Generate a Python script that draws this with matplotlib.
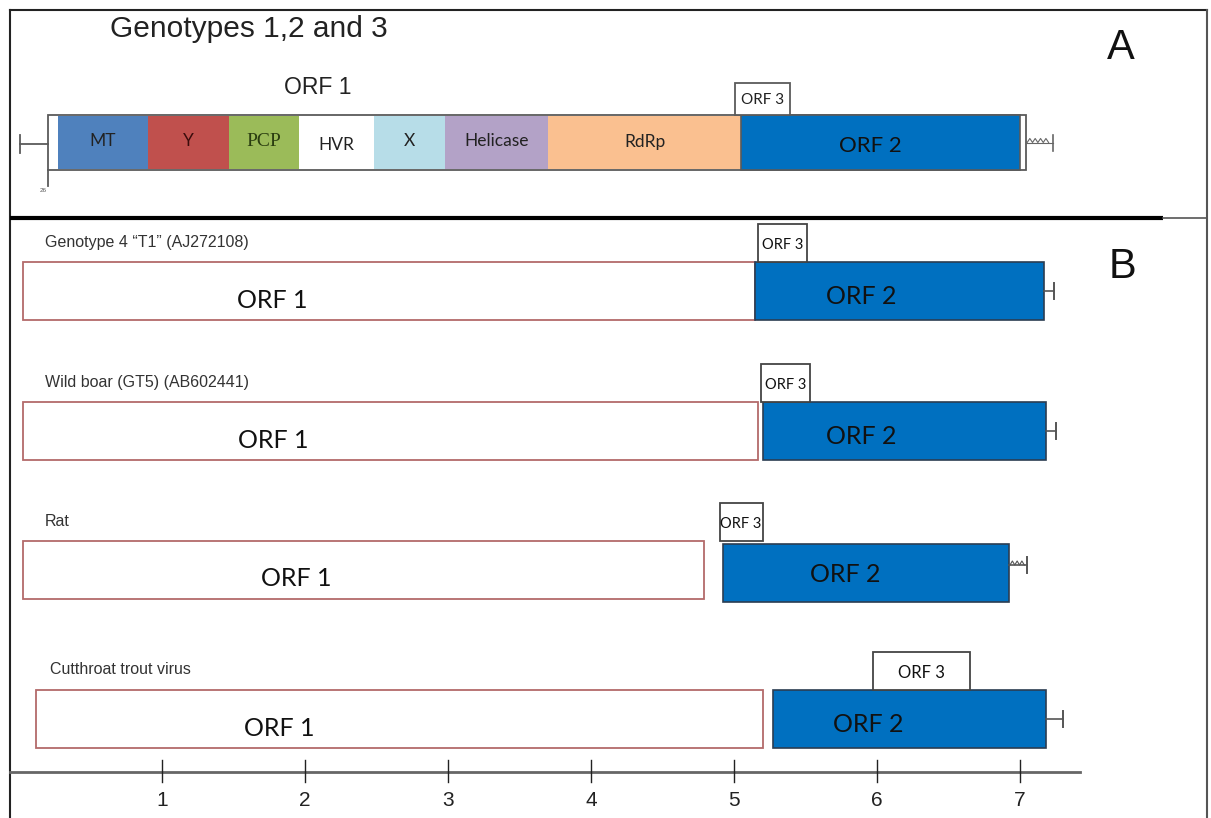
import numpy as np
import matplotlib
matplotlib.use("Agg")
import matplotlib.pyplot as plt

# ---------------- genome map data (kb) ----------------
# Panel A: genotypes 1, 2 and 3
a_genome_start = 0.01
a_orf1_start = 0.20
domain_names = ["MT", "Y", "PCP", "HVR", "X", "Helicase", "RdRp"]
domain_starts = [0.27, 0.90, 1.47, 1.96, 2.48, 2.98, 3.70]
domain_ends = [0.90, 1.47, 1.96, 2.48, 2.98, 3.70, 5.05]
domain_colors = ["#4f81bd", "#c0504d", "#9bbb59", "#ffffff", "#b7dde8", "#b3a2c7", "#fac090"]
a_orf2 = (5.05, 7.00)
a_orf3 = (5.01, 5.39)
a_orf1_end = 7.04
a_genome_end = 7.23

# Panel B: other HEV-like genomes
strains = ["Genotype 4 \u201cT1\u201d (AJ272108)", "Wild boar (GT5) (AB602441)",
           "Rat", "Cutthroat trout virus"]
orf1_start = [0.03, 0.03, 0.03, 0.12]
orf1_end = [5.15, 5.17, 4.79, 5.20]
orf2_start = [5.15, 5.20, 4.92, 5.27]
orf2_end = [7.17, 7.18, 6.92, 7.18]
orf3_start = [5.17, 5.19, 4.90, 5.97]
orf3_end = [5.51, 5.53, 5.20, 6.65]
genome_end = [7.24, 7.25, 7.05, 7.30]
poly_a_tail = [False, False, True, False]
kb_ticks = [1, 2, 3, 4, 5, 6, 7]

# ---------------- layout ----------------
W, H = 1211, 818
X0, PX_PER_KB = 19.0, 143.0          # horizontal kb scale


def kx(px):
    return (px - X0) / PX_PER_KB


fig = plt.figure(figsize=(W / 100, H / 100), dpi=100)
ax = fig.add_axes([0, 0, 1, 1])
ax.set_xlim(kx(0), kx(W))
ax.set_ylim(H, 0)
ax.axis("off")

SANS = "Liberation Sans"
CAL = "Lato"
EDGE = "#5a5a5a"
BLUE = "#0070c0"

# frame of the two panels
ax.plot([kx(10), kx(1207)], [10, 10], color="#222", lw=1.5, clip_on=False)
ax.plot([kx(10), kx(10)], [10, H], color="#222", lw=1.5, clip_on=False)
ax.plot([kx(1207), kx(1207)], [10, H], color="#555", lw=1.5, clip_on=False)
ax.plot([kx(10), kx(1163)], [218, 218], color="black", lw=3, clip_on=False,
        solid_capstyle="butt")
ax.plot([kx(1163), kx(1207)], [218, 218], color="#555", lw=1.2, clip_on=False)

ax.text(kx(1121), 48, "A", fontsize=30, family=SANS, ha="center", va="center", color="#111")
ax.text(kx(1123), 267, "B", fontsize=30, family=SANS, ha="center", va="center", color="#111")

# ---------------- panel A ----------------
ax.text(kx(110), 29, "Genotypes 1,2 and 3", fontsize=21.5, family=SANS,
        ha="left", va="center", color="#222")
ax.text(kx(318), 88, "ORF 1", fontsize=16.5, family=SANS, ha="center", va="center", color="#222")

a_top, a_bot = 115, 170
a_mid = (a_top + a_bot) / 2
a_h = a_bot - a_top
# 5' end marker
ax.plot([a_genome_start, a_orf1_start], [a_mid + 1, a_mid + 1], color=EDGE, lw=1.3)
ax.plot([a_genome_start, a_genome_start], [a_mid - 8, a_mid + 10], color=EDGE, lw=1.3)
ax.plot([a_orf1_start, a_orf1_start], [a_bot, a_bot + 16], color=EDGE, lw=1.3)
ax.text(a_orf1_start - 0.03, a_bot + 20, "26", fontsize=4.5, family=SANS,
        ha="center", va="center", color="#555")
# genome outline
ax.barh(a_mid, a_orf1_end - a_orf1_start, left=a_orf1_start, height=a_h,
        color="white", edgecolor=EDGE, lw=1.3)
# ORF1 domains
for name, s, e, c in zip(domain_names, domain_starts, domain_ends, domain_colors):
    ax.barh(a_mid, e - s, left=s, height=a_h - 2, color=c, edgecolor="none")
    fam = "Liberation Serif" if name == "PCP" else CAL
    fs = 14 if name == "PCP" else 12.5
    col = {"Y": "#3a0c0c", "PCP": "#2a3d10"}.get(name, "#222")
    ax.text((s + e) / 2, a_mid + (3 if name == "HVR" else -1),
            name, fontsize=fs, family=fam, ha="center", va="center", color=col)
# ORF2
ax.barh(a_mid, a_orf2[1] - a_orf2[0], left=a_orf2[0], height=a_h,
        color=BLUE, edgecolor=EDGE, lw=1.2)
ax.text(kx(870), a_mid + 3, "ORF 2", fontsize=16, family=CAL, ha="center", va="center", color="#111")
# ORF3
ax.barh(a_top - 16, a_orf3[1] - a_orf3[0], left=a_orf3[0], height=32,
        color="white", edgecolor=EDGE, lw=1.3)
ax.text((a_orf3[0] + a_orf3[1]) / 2, a_top - 15, "ORF 3", fontsize=11, family=CAL,
        ha="center", va="center", color="#222")
# poly(A) tail
tail = np.linspace(a_orf1_end + 0.01, a_genome_end - 0.03, 9)
ax.plot(tail, a_mid + np.where(np.arange(9) % 2 == 1, -4, 0), color="#666", lw=0.8)
ax.plot([a_orf1_end, a_genome_end], [a_mid, a_mid], color="#666", lw=0.8)
ax.plot([a_genome_end, a_genome_end], [a_mid - 8, a_mid + 8], color="#666", lw=1.2)

# ---------------- panel B ----------------
bar_tops = [262, 402, 541, 690]
bar_h = 58
orf3_h = 38
name_x = [45, 45, 45, 50]
name_y = [242, 382, 522, 670]
orf1_lab_x = [272, 273, 296, 279]
orf2_lab_x = [861, 861, 845, 868]

for i in range(len(strains)):
    top = bar_tops[i]
    mid = top + bar_h / 2
    ax.text(kx(name_x[i]), name_y[i], strains[i], fontsize=11.5, family=SANS,
            ha="left", va="center", color="#333")
    ax.barh(mid, orf1_end[i] - orf1_start[i], left=orf1_start[i], height=bar_h,
            color="white", edgecolor="#b36a6a", lw=1.3)
    ax.text(kx(orf1_lab_x[i]), mid + 9, "ORF 1", fontsize=18, family=CAL,
            ha="center", va="center", color="#111")
    o2_top = top + (3 if i == 2 else 0)
    ax.barh(o2_top + bar_h / 2, orf2_end[i] - orf2_start[i], left=orf2_start[i],
            height=bar_h, color=BLUE, edgecolor="#2b3d52", lw=1.2)
    ax.text(kx(orf2_lab_x[i]), mid + 5, "ORF 2", fontsize=18, family=CAL,
            ha="center", va="center", color="#111")
    ax.barh(top - orf3_h / 2, orf3_end[i] - orf3_start[i], left=orf3_start[i],
            height=orf3_h, color="white", edgecolor="#444", lw=1.3)
    ax.text((orf3_start[i] + orf3_end[i]) / 2, top - orf3_h / 2 + 2, "ORF 3",
            fontsize=12 if i == 3 else 10.5, family=CAL, ha="center", va="center",
            color="#111")
    # 3' end
    ty = o2_top + bar_h / 2 - (8 if poly_a_tail[i] else 0)
    if poly_a_tail[i]:
        zz = np.linspace(orf2_end[i] + 0.01, genome_end[i] - 0.02, 7)
        ax.plot(zz, ty + np.where(np.arange(7) % 2 == 1, -4, 0), color="#555", lw=0.8)
    ax.plot([orf2_end[i], genome_end[i]], [ty, ty], color="#555", lw=1.2)
    ax.plot([genome_end[i], genome_end[i]], [ty - 8, ty + 8], color="#555", lw=1.4)

# kb scale
axis_y = 772
ax.plot([kx(10), kx(1080)], [axis_y, axis_y], color="#666", lw=2)
for t in kb_ticks:
    ax.plot([t, t], [axis_y - 12, axis_y + 10], color="#222", lw=1)
    ax.text(t, 800, str(t), fontsize=15, family=SANS, ha="center", va="center",
            color="#222")

fig.savefig("out.png", dpi=100)
